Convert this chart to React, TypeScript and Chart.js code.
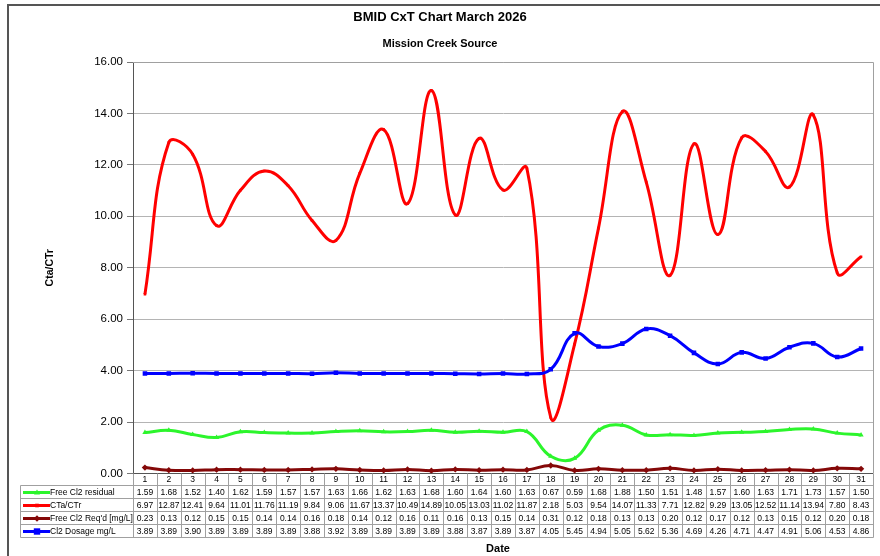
import React, { useEffect, useRef } from "react";
import { Chart, registerables } from "chart.js";

Chart.register(...registerables);

const days = ["1","2","3","4","5","6","7","8","9","10","11","12","13","14","15","16","17","18","19","20","21","22","23","24","25","26","27","28","29","30","31"];

const freeResidual = [1.59,1.68,1.52,1.40,1.62,1.59,1.57,1.57,1.63,1.66,1.62,1.63,1.68,1.60,1.64,1.60,1.63,0.67,0.59,1.68,1.88,1.50,1.51,1.48,1.57,1.60,1.63,1.71,1.73,1.57,1.50];
const ctaCtr = [6.97,12.87,12.41,9.64,11.01,11.76,11.19,9.84,9.06,11.67,13.37,10.49,14.89,10.05,13.03,11.02,11.87,2.18,5.03,9.54,14.07,11.33,7.71,12.82,9.29,13.05,12.52,11.14,13.94,7.80,8.43];
const freeReqd = [0.23,0.13,0.12,0.15,0.15,0.14,0.14,0.16,0.18,0.14,0.12,0.16,0.11,0.16,0.13,0.15,0.14,0.31,0.12,0.18,0.13,0.13,0.20,0.12,0.17,0.12,0.13,0.15,0.12,0.20,0.18];
const dosage = [3.89,3.89,3.90,3.89,3.89,3.89,3.89,3.88,3.92,3.89,3.89,3.89,3.89,3.88,3.87,3.89,3.87,4.05,5.45,4.94,5.05,5.62,5.36,4.69,4.26,4.71,4.47,4.91,5.06,4.53,4.86];

const seriesNames = ["Free Cl2 residual", "CTa/CTr", "Free Cl2 Req'd [mg/L]", "Cl2 Dosage mg/L"];
const seriesColors = ["#2cf52c", "#ff0000", "#840808", "#0000ff"];
const seriesPointStyles = ["triangle", "rect", "rectRot", "rect"];
const seriesPointRadius = [3, 1.8, 3.2, 3.2];

const chartTitle = "BMID CxT Chart March 2026";
const chartSubtitle = "Mission Creek Source";
const yTitle = "Cta/CTr";
const xTitle = "Date";

const FONT = "Arial, 'Liberation Sans', sans-serif";

const tablePlugin = {
  id: "excelTable",
  beforeDraw(chart: any) {
    const { ctx, width, height } = chart;
    ctx.save();
    ctx.fillStyle = "#ffffff";
    ctx.fillRect(0, 0, width, height);
    ctx.strokeStyle = "#555555";
    ctx.lineWidth = 2;
    ctx.beginPath();
    ctx.moveTo(880, 5);
    ctx.lineTo(8, 5);
    ctx.lineTo(8, 556);
    ctx.stroke();
    ctx.fillStyle = "#000000";
    ctx.textAlign = "center";
    ctx.textBaseline = "middle";
    ctx.font = `bold 13px ${FONT}`;
    ctx.fillText(chartTitle, 440, 17);
    ctx.font = `bold 11px ${FONT}`;
    ctx.fillText(chartSubtitle, 440, 44);
    ctx.restore();
  },
  afterDraw(chart: any) {
    const { ctx, chartArea } = chart;
    const xs = chart.scales.x;
    const n = days.length;
    const w = (chartArea.right - chartArea.left) / n;
    const headerTop = chartArea.bottom;
    const rowTop = 485.5;
    const rowH = 13;
    const tableBottom = rowTop + rowH * 4;
    const legendLeft = 20.5;
    ctx.save();
    ctx.strokeStyle = "#a0a0a0";
    ctx.lineWidth = 1;
    ctx.beginPath();
    ctx.moveTo(chartArea.left, Math.round(chartArea.top) + 0.5);
    ctx.lineTo(Math.round(chartArea.right) + 0.5, Math.round(chartArea.top) + 0.5);
    ctx.lineTo(Math.round(chartArea.right) + 0.5, chartArea.bottom);
    ctx.stroke();

    ctx.strokeStyle = "#a0a0a0";
    ctx.beginPath();
    for (let i = 0; i <= n; i++) {
      const x = Math.round(chartArea.left + i * w) + 0.5;
      ctx.moveTo(x, headerTop);
      ctx.lineTo(x, tableBottom);
    }
    for (let r = 0; r <= 4; r++) {
      const y = rowTop + r * rowH;
      ctx.moveTo(legendLeft, y);
      ctx.lineTo(Math.round(chartArea.right) + 0.5, y);
    }
    ctx.moveTo(legendLeft, rowTop);
    ctx.lineTo(legendLeft, tableBottom);
    ctx.stroke();

    ctx.fillStyle = "#000000";
    ctx.textAlign = "center";
    ctx.textBaseline = "middle";
    ctx.font = `8.5px ${FONT}`;
    days.forEach((d, i) => {
      ctx.fillText(d, xs.getPixelForValue(i), (headerTop + rowTop) / 2 + 0.5);
    });

    const rows = [freeResidual, ctaCtr, freeReqd, dosage];
    rows.forEach((vals, r) => {
      const cy = rowTop + r * rowH + rowH / 2 + 0.5;
      ctx.textAlign = "center";
      ctx.fillStyle = "#000000";
      ctx.font = `8.5px ${FONT}`;
      vals.forEach((v, i) => {
        ctx.fillText(v.toFixed(2), xs.getPixelForValue(i), cy);
      });
      ctx.strokeStyle = seriesColors[r];
      ctx.lineWidth = 3;
      ctx.beginPath();
      ctx.moveTo(23, cy);
      ctx.lineTo(50, cy);
      ctx.stroke();
      ctx.fillStyle = seriesColors[r];
      const mx = 37;
      const style = seriesPointStyles[r];
      const rad = seriesPointRadius[r];
      ctx.beginPath();
      if (style === "triangle") {
        ctx.moveTo(mx, cy - rad);
        ctx.lineTo(mx + rad, cy + rad * 0.7);
        ctx.lineTo(mx - rad, cy + rad * 0.7);
        ctx.closePath();
      } else if (style === "rectRot") {
        ctx.moveTo(mx, cy - rad);
        ctx.lineTo(mx + rad, cy);
        ctx.lineTo(mx, cy + rad);
        ctx.lineTo(mx - rad, cy);
        ctx.closePath();
      } else {
        ctx.rect(mx - rad, cy - rad, rad * 2, rad * 2);
      }
      ctx.fill();
      ctx.fillStyle = "#000000";
      ctx.textAlign = "left";
      ctx.font = `8.5px ${FONT}`;
      ctx.fillText(seriesNames[r], 50, cy);
    });

    ctx.font = `bold 11px ${FONT}`;
    ctx.textAlign = "center";
    ctx.fillStyle = "#000000";
    ctx.fillText(xTitle, (chartArea.left + chartArea.right) / 2 - 5, 549);
    ctx.restore();
  },
};

export default function App() {
  const canvasRef = useRef<HTMLCanvasElement | null>(null);

  useEffect(() => {
    const canvas = canvasRef.current;
    if (!canvas) return;
    const allSeries = [freeResidual, ctaCtr, freeReqd, dosage];
    const chart = new Chart(canvas, {
      type: "line",
      data: {
        labels: days,
        datasets: allSeries.map((vals, i) => ({
          label: seriesNames[i],
          data: vals,
          borderColor: seriesColors[i],
          backgroundColor: seriesColors[i],
          borderWidth: 3,
          pointStyle: seriesPointStyles[i] as any,
          pointRadius: seriesPointRadius[i],
          pointBorderWidth: 0,
          tension: 0.42,
          fill: false,
          order: 3 - i,
        })),
      },
      options: {
        animation: false,
        responsive: false,
        devicePixelRatio: 1,
        layout: { padding: { left: 44, top: 62, right: 7, bottom: 82.5 } },
        plugins: {
          legend: { display: false },
          tooltip: { enabled: false },
          title: { display: false },
        },
        scales: {
          x: {
            display: false,
            offset: true,
          },
          y: {
            min: 0,
            max: 16,
            afterFit: (scale: any) => {
              scale.width = 89;
            },
            ticks: {
              stepSize: 2,
              padding: 4,
              color: "#000000",
              font: { family: FONT, size: 11.5 },
              callback: (v: any) => Number(v).toFixed(2),
            },
            grid: {
              color: (c: any) => (c.tick && c.tick.value === 0 ? "#555555" : "#b4b4b4"),
              tickColor: "#777777",
              tickLength: 6,
              lineWidth: 1,
            },
            border: { color: "#555555", width: 1 },
            title: {
              display: true,
              text: yTitle,
              color: "#000000",
              font: { family: FONT, size: 10.5, weight: "bold" },
              padding: { top: 0, bottom: 4 },
            },
          },
        },
      },
      plugins: [tablePlugin],
    });
    return () => chart.destroy();
  }, []);

  return (
    <div style={{ position: "fixed", left: 0, top: 0, width: 880, height: 556, background: "#fff" }}>
      <canvas ref={canvasRef} width={880} height={556} style={{ display: "block" }} />
    </div>
  );
}
